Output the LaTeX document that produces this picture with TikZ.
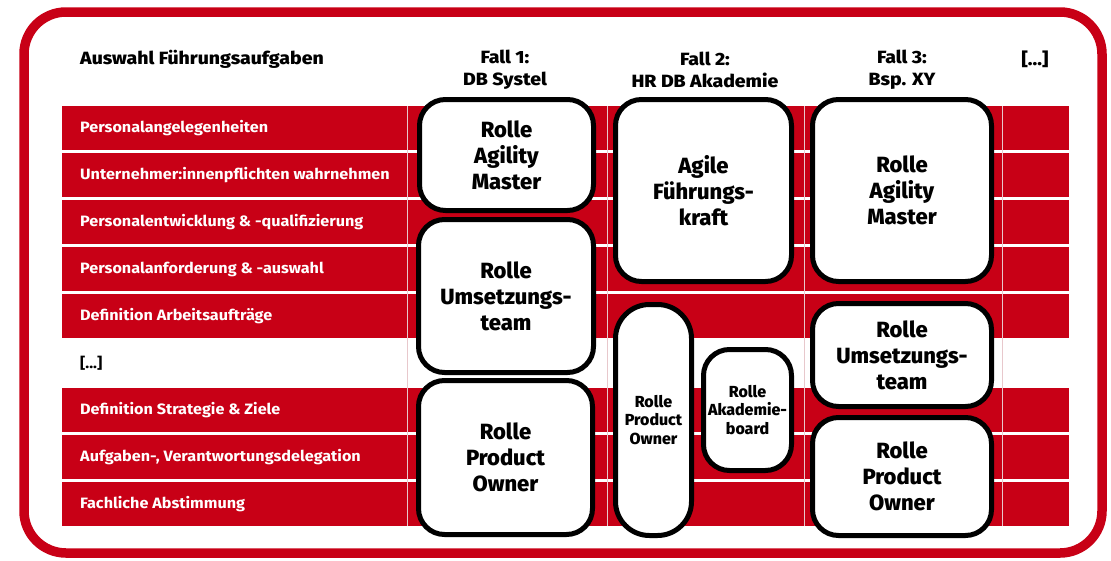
\documentclass[tikz,border=0pt]{standalone}
\usepackage{fontspec}
\setmainfont{Fira Sans}
\newfontfamily\hdrfont{Fira Sans ExtraBold}[FakeStretch=1.1]
\newfontfamily\rowfont{Fira Sans Bold}[FakeStretch=1.08]
\newfontfamily\boxfont{Fira Sans ExtraBold}
\definecolor{dbred}{RGB}{200,0,22}
\definecolor{gridline}{RGB}{232,200,204}
\begin{document}
\begin{tikzpicture}[x=1pt,y=-1pt,
  rowbar/.style={fill=dbred, draw=none},
  rowlabel/.style={anchor=west, text=white, font=\rowfont\fontsize{15}{17}\selectfont, inner sep=0pt},
  hdr/.style={font=\hdrfont\fontsize{17.7}{22}\selectfont, align=center, inner sep=0pt},
  rolebox/.style={draw=black, line width=5pt, fill=white, rounded corners=26pt, align=center, inner sep=0pt, font=\boxfont\fontsize{22}{26}\selectfont},
  smallbox/.style={rolebox, font=\boxfont\fontsize{16}{18.5}\selectfont},
  frame/.style={draw=dbred, line width=9.5pt, rounded corners=42pt},
  faint/.style={draw=gridline, line width=0.5pt}
]
\useasboundingbox (0,0) rectangle (1111,560);
\fill[white] (0,0) rectangle (1111,560);

% frame
\draw[frame] (24,12) rectangle (1102,553);

% row bars
\foreach \t in {106,153,200,247,294,388,435,482}
  \fill[rowbar] (62,\t) rectangle (1069,\t+44);

% faint grid lines
\foreach \x in {407,607,804,1002}
  \draw[faint] (\x,106) -- (\x,526);

% headers
\node[hdr, anchor=west] (h0) at (80,59) {Auswahl Führungsaufgaben};
\node[hdr] (h1) at (505,70) {Fall 1:\\DB Systel};
\node[hdr] (h2) at (705,70) {Fall 2:\\HR DB Akademie};
\node[hdr] (h3) at (902,70) {Fall 3:\\Bsp. XY};
\node[hdr] (h4) at (1035,59) {[...]};

% row labels
\node[rowlabel] (r1) at (80,128) {Personalangelegenheiten};
\node[rowlabel] (r2) at (80,175) {Unternehmer:innenpflichten wahrnehmen};
\node[rowlabel] (r3) at (80,222) {Personalentwicklung \& -qualifizierung};
\node[rowlabel] (r4) at (80,269) {Personalanforderung \& -auswahl};
\node[rowlabel] (r5) at (80,316) {Definition Arbeitsaufträge};
\node[rowlabel, text=black] (r6) at (80,363) {[...]};
\node[rowlabel] (r7) at (80,410) {Definition Strategie \& Ziele};
\node[rowlabel] (r8) at (80,457) {Aufgaben-, Verantwortungsdelegation};
\node[rowlabel] (r9) at (80,504) {Fachliche Abstimmung};

% Fall 1
\node[rolebox, minimum width=174pt, minimum height=111pt] (f1am) at (506.5,155) {Rolle\\Agility\\Master};
\node[rolebox, minimum width=175pt, minimum height=153pt] (f1ut) at (506,296) {Rolle\\Umsetzungs-\\team};
\node[rolebox, minimum width=174pt, minimum height=154pt] (f1po) at (505.5,457.5) {Rolle\\Product\\Owner};

% Fall 2
\node[rolebox, minimum width=176pt, minimum height=182pt] (f2fk) at (703.5,190.5) {Agile\\Führungs-\\kraft};
\node[smallbox, rounded corners=34pt, minimum width=76pt, minimum height=231pt] (f2po) at (653.5,420) {Rolle\\Product\\Owner};
\node[smallbox, minimum width=88pt, minimum height=121pt] (f2ab) at (747.5,410) {Rolle\\Akademie-\\board};

% Fall 3
\node[rolebox, minimum width=179pt, minimum height=182pt] (f3am) at (902,190.5) {Rolle\\Agility\\Master};
\node[rolebox, minimum width=179pt, minimum height=103pt] (f3ut) at (902,355) {Rolle\\Umsetzungs-\\team};
\node[rolebox, minimum width=179pt, minimum height=118pt] (f3po) at (902,476.5) {Rolle\\Product\\Owner};
\end{tikzpicture}
\end{document}
